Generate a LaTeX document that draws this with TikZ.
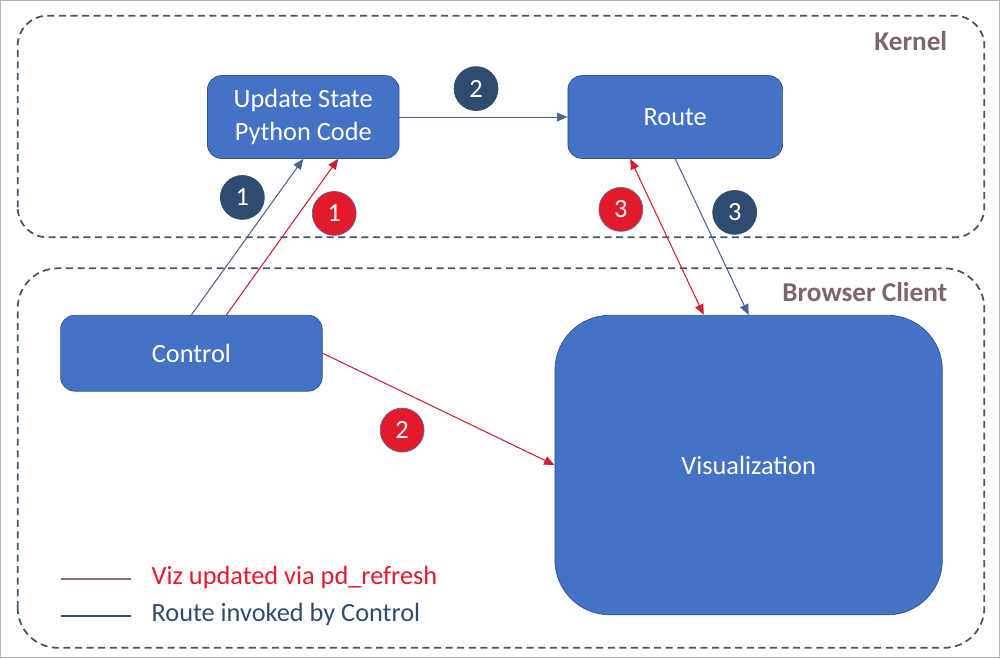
\documentclass[tikz,border=0pt]{standalone}
\usepackage{fontspec}
\setmainfont{Carlito}
\usepackage{tikz}
\usetikzlibrary{positioning, arrows.meta}

\definecolor{boxfill}{HTML}{4472C4}
\definecolor{boxline}{HTML}{2F528F}
\definecolor{stepblue}{HTML}{2F4B70}
\definecolor{stepred}{HTML}{E31A2C}
\definecolor{zonelabel}{HTML}{7D6470}
\definecolor{zoneline}{HTML}{44546A}
\definecolor{bluearrow}{HTML}{4A6296}
\definecolor{redarrow}{HTML}{D0202E}
\definecolor{legendred}{HTML}{8B6C7A}

\tikzset{
    zone/.style={draw=zoneline, line width=1pt, dash pattern=on 4pt off 2.6pt},
    block/.style={rectangle, rounded corners=8pt, draw=boxline, fill=boxfill, text=white, font=\fontsize{15}{19}\selectfont, align=center},
    bluestep/.style={circle, fill=stepblue, draw=stepblue, text=white, minimum size=0.88cm, inner sep=0pt, font=\fontsize{15}{18}\selectfont},
    redstep/.style={circle, fill=stepred, draw=stepblue!80, text=white, minimum size=0.88cm, inner sep=0pt, font=\fontsize{15}{18}\selectfont},
    bluelink/.style={draw=bluearrow, line width=0.6pt, -{Triangle[length=6pt, width=5pt]}},
    redlink/.style={draw=redarrow, line width=0.6pt, -{Triangle[length=6pt, width=5pt]}}
}

\begin{document}
\begin{tikzpicture}
                    % Frame
                    \draw[gray!60, line width=0.8pt] (0,0) rectangle (20,13.16);

                    % Zones
                    \draw[zone, rounded corners=0.6cm] (0.34,8.42) rectangle (19.7,12.86);
                    \draw[zone, rounded corners=0.8cm] (0.34,0.2) rectangle (19.7,7.8);
                    \node[text=zonelabel, font=\bfseries\fontsize{15.5}{18}\selectfont, anchor=east] (kernel) at (19.08,12.36) {Kernel};
                    \node[text=zonelabel, font=\bfseries\fontsize{15.5}{18}\selectfont, anchor=east] (browser) at (19.08,7.32) {Browser Client};

                    % Nodes
                    \node[block, minimum width=3.84cm, minimum height=1.66cm] (update) at (6.06,10.83) {Update State\\Python Code};
                    \node[block, minimum width=4.3cm, minimum height=1.66cm] (route) at (13.51,10.83) {Route};
                    \node[block, minimum width=5.24cm, minimum height=1.52cm] (control) at (3.82,6.1) {Control};
                    \node[block, rounded corners=1.1cm, minimum width=7.76cm, minimum height=6cm] (viz) at (14.98,3.86) {Visualization};

                    % Steps
                    \node[bluestep] (b1) at (4.84,9.22) {1};
                    \node[bluestep] (b2) at (9.52,11.4) {2};
                    \node[bluestep] (b3) at (14.7,8.92) {3};
                    \node[redstep] (r1) at (6.68,8.9) {1};
                    \node[redstep] (r2) at (8.04,4.56) {2};
                    \node[redstep] (r3) at (12.42,8.98) {3};

                    % Edges
                    % control to update
                    \draw[bluelink] (control.north) -- (update.south);
                    \draw[redlink] ([xshift=0.7cm]control.north) -- ([xshift=0.7cm]update.south);

                    % update to route
                    \draw[bluelink] (update.east) -- (route.west);

                    % route to viz
                    \draw[redlink, {Triangle[length=6pt, width=5pt]}-{Triangle[length=6pt, width=5pt]}] ([xshift=-0.9cm]route.south) -- ([xshift=-0.9cm]viz.north);
                    \draw[bluelink] (route.south) -- (viz.north);

                    % control to viz
                    \draw[redlink] (control.east) -- (viz.west);

                    % Legend
                    \coordinate (la) at (1.2,1.58);
                    \coordinate (lb) at (2.6,1.58);
                    \coordinate (lc) at (1.2,0.84);
                    \coordinate (ld) at (2.6,0.84);
                    \draw[legendred, line width=1.4pt] (la) -- (lb);
                    \draw[boxline, line width=1.4pt] (lc) -- (ld);
                    \node[anchor=west, text=stepred, font=\fontsize{15}{18}\selectfont] (vizkey) at (2.9,1.6) {Viz updated via pd\_refresh};
                    \node[anchor=west, text=stepblue, font=\fontsize{15}{18}\selectfont] (routekey) at (2.9,0.86) {Route invoked by Control};

                \end{tikzpicture}
\end{document}
